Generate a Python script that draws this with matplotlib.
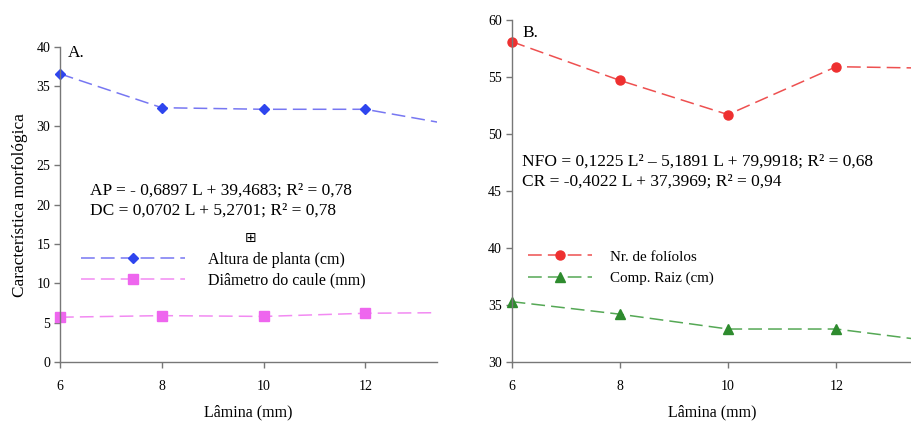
import matplotlib.pyplot as plt

plt.rcParams['font.family'] = ['Liberation Serif', 'DejaVu Sans']

# Lamina values (the point at 14 is cut off by the frame in the original)
lamina = [6, 8, 10, 12, 14]

# Panel A
altura = [36.6, 32.3, 32.1, 32.1, 29.8]
diametro = [5.7, 5.9, 5.8, 6.2, 6.3]

# Panel B
foliolos = [58.1, 54.7, 51.7, 55.9, 55.75]
raiz = [35.3, 34.2, 32.9, 32.9, 31.7]

xticks = [6, 8, 10, 12]
xmax = 13.4

fig = plt.figure(figsize=(9.12, 4.24), dpi=100)
axA = fig.add_axes([0.0658, 0.146, 0.413, 0.743])
axB = fig.add_axes([0.561, 0.146, 0.439, 0.807])

dash = (9, 4)


def series(ax, y, lc, mc, marker, ms, label):
    # dashed line clipped at the frame, markers drawn unclipped
    ax.plot(lamina, y, color=lc, ls='--', dashes=dash, lw=1.1, marker=marker, ms=ms,
            mfc=mc, mec=mc, label=label, markevery=[])
    xs = [x for x in lamina if x <= xmax]
    ax.plot(xs, y[:len(xs)], ls='none', marker=marker, ms=ms, mfc=mc, mec=mc, clip_on=False)


def style(ax, ylim, yticks):
    ax.set_xlim(6, xmax)
    ax.set_ylim(*ylim)
    ax.set_xticks(xticks)
    ax.set_yticks(yticks)
    for s in ['top', 'right']:
        ax.spines[s].set_visible(False)
    for s in ['left', 'bottom']:
        ax.spines[s].set_color('#777777')
        ax.spines[s].set_linewidth(1.0)
    ax.tick_params(axis='both', colors='#777777', labelcolor='black', labelsize=10, length=4, width=1)
    ax.tick_params(axis='x', pad=9)
    ax.tick_params(axis='y', pad=3)
    ax.set_xlabel('Lâmina (mm)', fontsize=11.5, labelpad=8)


# Panel A
series(axA, altura, '#7777f2', '#2e45ee', 'D', 5.5, 'Altura de planta (cm)')
series(axA, diametro, '#f28af2', '#ee66ee', 's', 6.5, 'Diâmetro do caule (mm)')
style(axA, (0, 40), range(0, 41, 5))
axA.set_ylabel('Característica morfológica', fontsize=12.4, labelpad=6)
axA.text(0.02, 1.006, 'A.', transform=axA.transAxes, fontsize=12.5, va='top')
axA.text(0.08, 0.57, 'AP = - 0,6897 L + 39,4683; R² = 0,78\nDC = 0,0702 L + 5,2701; R² = 0,78',
         transform=axA.transAxes, fontsize=12.5, va='top', linespacing=1.35)
axA.text(0.505, 0.395, '⊞', transform=axA.transAxes, fontsize=10, ha='center', va='center',
         family='DejaVu Sans')
axA.legend(loc='upper left', bbox_to_anchor=(0.04, 0.37), frameon=False, handlelength=6.5,
           handletextpad=1.4, fontsize=11.5, labelspacing=0.3, borderaxespad=0)

# Panel B
series(axB, foliolos, '#ee5050', '#ee3030', 'o', 6.5, 'Nr. de folíolos')
series(axB, raiz, '#55a855', '#2e8b2e', '^', 7, 'Comp. Raiz (cm)')
style(axB, (30, 60), range(30, 61, 5))
axB.text(0.027, 0.985, 'B.', transform=axB.transAxes, fontsize=12.5, va='top')
axB.text(0.027, 0.61, 'NFO = 0,1225 L² – 5,1891 L + 79,9918; R² = 0,68\nCR = -0,4022 L + 37,3969; R² = 0,94',
         transform=axB.transAxes, fontsize=12.5, va='top', linespacing=1.35)
axB.legend(loc='upper left', bbox_to_anchor=(0.025, 0.345), frameon=False, handlelength=4.3,
           handletextpad=1.2, fontsize=10.8, labelspacing=0.55, borderaxespad=0)

fig.savefig('out.png', dpi=100)
